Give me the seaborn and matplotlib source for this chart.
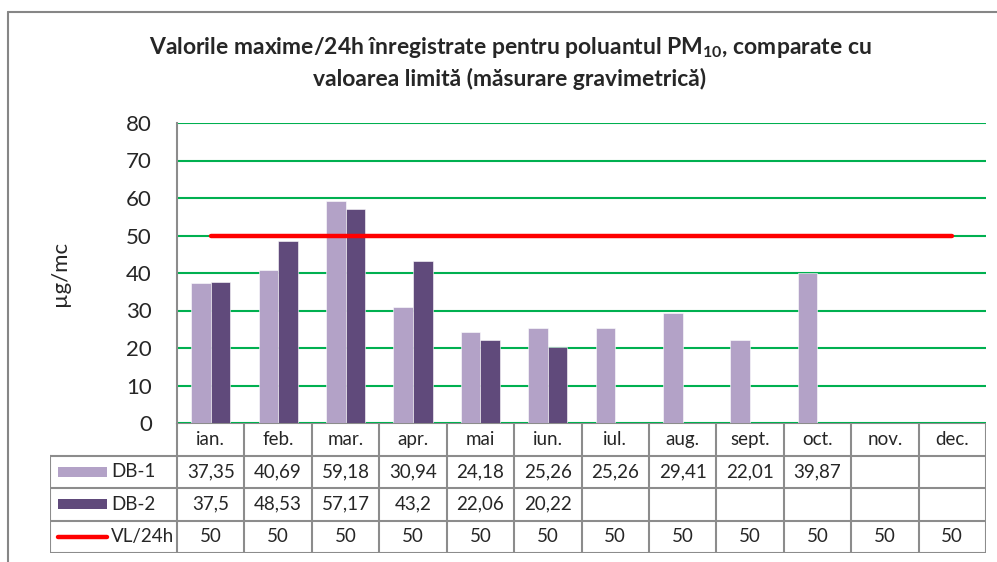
import numpy as np
import pandas as pd
import matplotlib
matplotlib.use("Agg")
import matplotlib.pyplot as plt
from matplotlib.patches import Rectangle
from matplotlib.lines import Line2D
import seaborn as sns

months = ["ian.", "feb.", "mar.", "apr.", "mai", "iun.", "iul.", "aug.", "sept.", "oct.", "nov.", "dec."]
db1 = [37.35, 40.69, 59.18, 30.94, 24.18, 25.26, 25.26, 29.41, 22.01, 39.87, np.nan, np.nan]
db2 = [37.5, 48.53, 57.17, 43.2, 22.06, 20.22, np.nan, np.nan, np.nan, np.nan, np.nan, np.nan]
vl = [50, 50, 50, 50, 50, 50, 50, 50, 50, 50, 50, 50]
series_names = ["DB-1", "DB-2", "VL/24h"]
yticks = [0, 10, 20, 30, 40, 50, 60, 70, 80]
title1 = "Valorile maxime/24h înregistrate pentru poluantul PM$_{10}$, comparate cu"
title2 = "valoarea limită (măsurare gravimetrică)"
ylabel = "µg/mc"

C1, C2, CR, CG = "#B3A2C7", "#604A7B", "#FF0000", "#00B050"
GRAY = "#8C8C8C"

sns.set_style("white")
plt.rcParams["font.family"] = ["Lato", "DejaVu Sans"]
plt.rcParams["mathtext.fontset"] = "custom"
plt.rcParams["mathtext.rm"] = "Lato:bold"
plt.rcParams["mathtext.default"] = "rm"

W, H = 997, 562
fig = plt.figure(figsize=(W / 100, H / 100), dpi=100)

def fx(px):
    return px / W

def fy(py):
    return 1 - py / H

ax_l, ax_r, ax_t, ax_b = 177, 986, 123, 423
ax = fig.add_axes([fx(ax_l), fy(ax_b), fx(ax_r - ax_l), (ax_b - ax_t) / H])

df = pd.DataFrame({
    "month": months * 2,
    "value": db1 + db2,
    "series": ["DB-1"] * 12 + ["DB-2"] * 12,
})
sns.barplot(data=df, x="month", y="value", hue="series", order=months,
            hue_order=["DB-1", "DB-2"], palette=[C1, C2], width=0.58,
            legend=False, ax=ax, edgecolor="white", linewidth=0.4, saturation=1)
sns.lineplot(x=np.arange(len(months)), y=vl, color=CR, linewidth=3.2, ax=ax,
             solid_capstyle="round")
ax.set_xlim(-0.5, len(months) - 0.5)
ax.set_ylim(0, 80)
ax.set_yticks(yticks)
ax.set_yticklabels([str(t) for t in yticks], fontsize=16)
ax.tick_params(axis="y", length=0, pad=18)
ax.set_xticks([])
ax.set_xlabel("")
ax.set_ylabel("")
ax.yaxis.grid(True, color=CG, linewidth=1.5)
ax.set_axisbelow(True)
for s in ["top", "right", "bottom"]:
    ax.spines[s].set_visible(False)
ax.spines["left"].set_color(GRAY)
ax.spines["left"].set_linewidth(1.5)

fig.text(fx(60), fy(273), ylabel, rotation=90, ha="center", va="center", fontsize=16)
fig.text(fx(510), fy(47), title1, ha="center", va="center", fontsize=16.5, fontweight="bold")
fig.text(fx(510), fy(79), title2, ha="center", va="center", fontsize=16.5, fontweight="bold")

# data table
tb_l, tb_b = 50, 553
unit = (ax_r - ax_l) / len(months)
x0 = -0.5 - (ax_l - tb_l) / unit
tax = fig.add_axes([fx(tb_l), fy(tb_b), fx(ax_r - tb_l), (tb_b - ax_b) / H])
tax.set_xlim(x0, len(months) - 0.5)
tax.set_ylim(0, 4)
tax.axis("off")
lk = dict(color=GRAY, linewidth=1.5, solid_capstyle="projecting")
for yy in [0, 1, 2, 3]:
    tax.plot([x0, len(months) - 0.5], [yy, yy], **lk)
tax.plot([-0.5, len(months) - 0.5], [4, 4], **lk)
tax.plot([x0, x0], [0, 3], **lk)
for k in range(len(months) + 1):
    tax.plot([k - 0.5, k - 0.5], [0, 4], **lk)

def fmt(v):
    if v is None or (isinstance(v, float) and np.isnan(v)):
        return ""
    return "{:g}".format(v).replace(".", ",")

fs = 13.5
for i, m in enumerate(months):
    tax.text(i, 3.5, m, ha="center", va="center", fontsize=fs)
    tax.text(i, 2.5, fmt(db1[i]), ha="center", va="center", fontsize=fs)
    tax.text(i, 1.5, fmt(db2[i]), ha="center", va="center", fontsize=fs)
    tax.text(i, 0.5, fmt(vl[i]), ha="center", va="center", fontsize=fs)

sw_x = x0 + 8 / unit
sw_w = 49 / unit
tx = x0 + 61 / unit
tax.add_patch(Rectangle((sw_x, 2.5 - 0.16), sw_w, 0.32, color=C1, lw=0))
tax.add_patch(Rectangle((sw_x, 1.5 - 0.16), sw_w, 0.32, color=C2, lw=0))
tax.add_line(Line2D([sw_x, sw_x + sw_w], [0.5, 0.5], color=CR, linewidth=3.2, solid_capstyle="round"))
for r, name in zip([2.5, 1.5, 0.5], series_names):
    tax.text(tx, r, name, ha="left", va="center", fontsize=fs)

# outer chart frame
fig.add_artist(Line2D([fx(8), 1], [fy(12), fy(12)], color="#868686", linewidth=1.5, transform=fig.transFigure))
fig.add_artist(Line2D([fx(8), fx(8)], [fy(12), 0], color="#868686", linewidth=1.5, transform=fig.transFigure))

fig.savefig("out.png", dpi=100)
